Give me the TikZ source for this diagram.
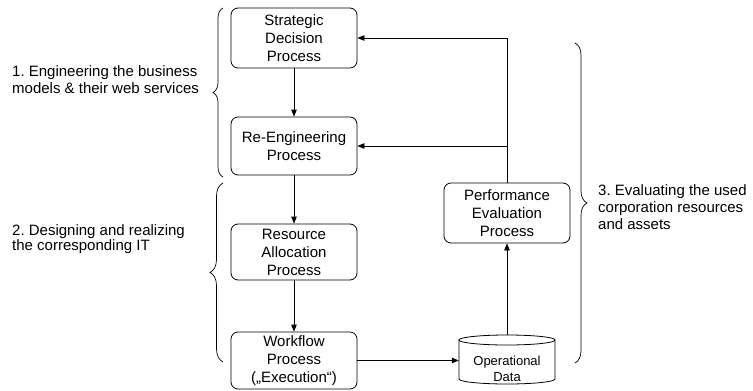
\documentclass[tikz,border=0pt]{standalone}
\usepackage{fontspec}
\setmainfont{Liberation Sans}
\frenchspacing
\usetikzlibrary{arrows.meta,decorations.pathreplacing,calc}
\tikzset{
  procbox/.style={draw, line width=0.8pt, rounded corners=7pt, minimum width=126pt,
    inner sep=0pt, align=center, font=\fontsize{15}{18}\selectfont},
  arr/.style={line width=0.8pt, -{Triangle[length=7pt,width=5.5pt]}},
  brc/.style={line width=0.7pt, decorate},
  lbl/.style={inner sep=0pt, align=left, anchor=base west},
}
\begin{document}
\begin{tikzpicture}[x=1pt,y=-1pt]
\useasboundingbox[fill=white] (0,0) rectangle (753,391);
% process boxes
\node[procbox, minimum height=60pt] (strat) at (294,38) {Strategic\\Decision\\Process};
\node[procbox, minimum height=58pt] (reeng) at (294,146) {Re-Engineering\\Process};
\node[procbox, minimum height=56pt] (res) at (294,252) {Resource\\Allocation\\Process};
\node[procbox, minimum height=57pt] (wf) at (294,360.5) {Workflow\\Process\\(„Execution“)};
\node[procbox, minimum height=60pt] (perf) at (507,213) {Performance\\Evaluation\\Process};
% database cylinder
\node[minimum width=96pt, minimum height=49pt, inner sep=0pt] (cyl) at (507,359.5) {};
\draw[line width=0.8pt] (459,340) -- (459,379) arc[start angle=180, end angle=360, x radius=48pt, y radius=5pt] -- (555,340);
\draw[line width=0.8pt] (507,340) ellipse [x radius=48pt, y radius=5pt];
\node[inner sep=0pt, align=center, font=\fontsize{13}{16}\selectfont] (cyltxt) at (507,369) {Operational\\Data};
% connectors
\draw[arr] (strat) -- (reeng);
\draw[arr] (reeng) -- (res);
\draw[arr] (res) -- (wf);
\draw[arr] (wf.east) -- (wf.east -| cyl.west);
\draw[arr] (cyl.north) -- (perf.south);
\draw[arr] (perf.north) |- (strat.east);
\draw[arr] (perf.north |- reeng.east) -- (reeng.east);
% braces
\draw[brc, decoration={brace, amplitude=10pt}] (223,177) -- (223,8);
\draw[brc, decoration={brace, amplitude=13pt}] (223,362) -- (223,183);
\draw[brc, decoration={brace, amplitude=12pt}] (575,43) -- (575,363);
% labels
\node[lbl, font=\fontsize{15}{17}\selectfont] (t1) at (12,93) {1. Engineering the business\\models \& their web services};
\node[lbl, font=\fontsize{15}{15}\selectfont] (t2) at (12,250) {2. Designing and realizing\\the corresponding IT};
\node[lbl, font=\fontsize{15}{17}\selectfont] (t3) at (598,229) {3. Evaluating the used\\corporation resources\\and assets};
\end{tikzpicture}
\end{document}
